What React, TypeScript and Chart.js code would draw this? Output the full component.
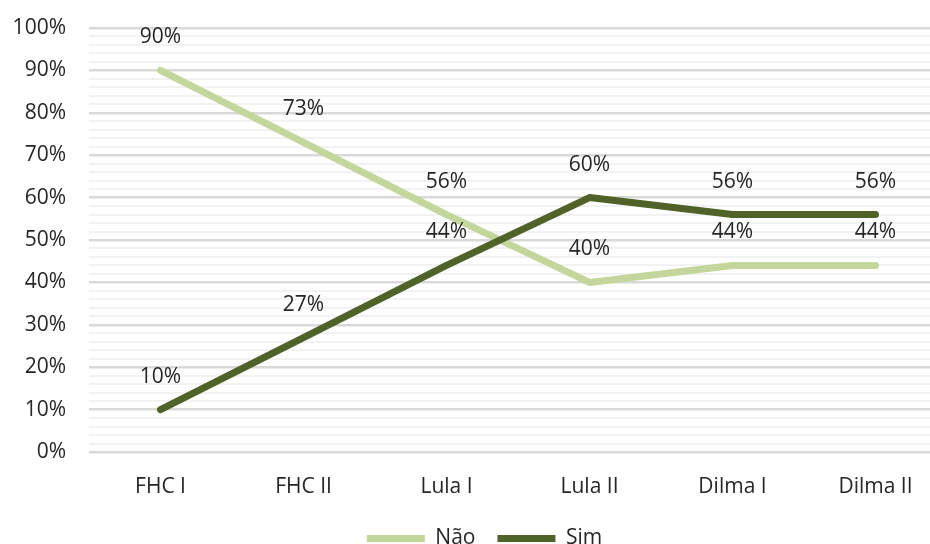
import React, { useEffect, useRef } from "react";
import { Chart, registerables } from "chart.js";

Chart.register(...registerables);

const categories = ["FHC I", "FHC II", "Lula I", "Lula II", "Dilma I", "Dilma II"];
const naoValues = [90, 73, 56, 40, 44, 44];
const simValues = [10, 27, 44, 60, 56, 56];
const seriesNames = ["Não", "Sim"];

const FONT = "'Open Sans', Lato, sans-serif";
const FS = 21;
const TEXT = "#262626";
const NAO_COLOR = "#c3d69b";
const SIM_COLOR = "#4f6228";

const dataLabels = {
  id: "dataLabels",
  afterDatasetsDraw(chart: any) {
    const ctx = chart.ctx;
    ctx.save();
    ctx.font = `${FS}px ${FONT}`;
    ctx.fillStyle = TEXT;
    ctx.textAlign = "center";
    ctx.textBaseline = "middle";
    chart.data.datasets.forEach((ds: any, i: number) => {
      const meta = chart.getDatasetMeta(i);
      meta.data.forEach((pt: any, j: number) => {
        ctx.fillText(ds.data[j] + "%", pt.x, pt.y - 33);
      });
    });
    ctx.restore();
  },
};

// shift the legend block to the right, where the reference centres it
const legendShift = {
  id: "legendShift",
  afterLayout(chart: any) {
    const l = chart.legend;
    if (l) {
      l.left += 11;
      l.right += 11;
    }
  },
};

export default function App() {
  const ref = useRef<HTMLCanvasElement>(null);
  useEffect(() => {
    const chart = new Chart(ref.current!, {
      type: "line",
      data: {
        labels: categories,
        datasets: [
          {
            label: seriesNames[1],
            data: simValues,
            borderColor: SIM_COLOR,
            backgroundColor: SIM_COLOR,
            borderWidth: 7,
            borderCapStyle: "round",
            borderJoinStyle: "round",
            pointRadius: 0,
            tension: 0,
          },
          {
            label: seriesNames[0],
            data: naoValues,
            borderColor: NAO_COLOR,
            backgroundColor: NAO_COLOR,
            borderWidth: 7,
            borderCapStyle: "round",
            borderJoinStyle: "round",
            pointRadius: 0,
            tension: 0,
          },
        ],
      },
      options: {
        animation: false,
        responsive: false,
        maintainAspectRatio: false,
        layout: { padding: { top: 28, right: 22, left: 0, bottom: 0 } },
        plugins: {
          tooltip: { enabled: false },
          legend: {
            position: "bottom",
            reverse: true,
            labels: {
              usePointStyle: true,
              pointStyle: "line",
              pointStyleWidth: 58,
              boxHeight: FS,
              padding: 22,
              color: TEXT,
              font: { family: FONT, size: FS },
            },
          },
        },
        scales: {
          x: {
            offset: true,
            grid: { display: false },
            border: { display: false },
            ticks: { color: TEXT, font: { family: FONT, size: FS }, padding: 14, maxRotation: 0 },
            afterFit: (s: any) => { s.height = 54; },
          },
          y: {
            min: 0,
            max: 100,
            border: { display: false },
            grid: {
              drawTicks: false,
              color: (c: any) => (c.tick && c.tick.value % 10 === 0 ? "#d9d9d9" : "#f2f2f2"),
              lineWidth: (c: any) => (c.tick && c.tick.value % 10 === 0 ? 2.5 : 2),
            },
            ticks: {
              stepSize: 2,
              autoSkip: false,
              padding: 23,
              color: TEXT,
              font: { family: FONT, size: FS },
              callback: (v: any) => (Number(v) % 10 === 0 ? v + "%" : ""),
            },
            afterFit: (s: any) => {
              s.width = 89;
              s.paddingTop = 10;
              s.paddingBottom = 10;
            },
          },
        },
      },
      plugins: [dataLabels, legendShift],
    });
    return () => chart.destroy();
  }, []);
  return (
    <div style={{ position: "fixed", left: 0, top: 0, width: 930, height: 544, overflow: "hidden", background: "#fff" }}>
      <canvas ref={ref} width={969} height={559} style={{ display: "block" }} />
    </div>
  );
}
